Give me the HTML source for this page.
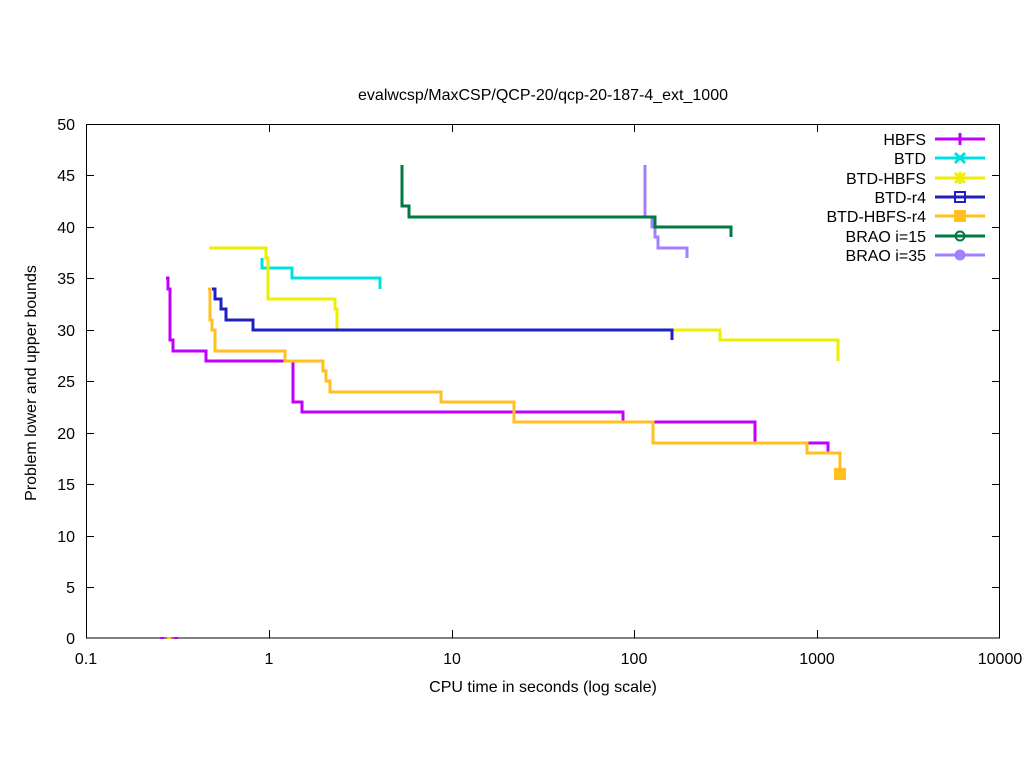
<!DOCTYPE html>
<html><head><style>body{margin:0;background:#fff}svg{display:block}text{font-family:"Liberation Sans",sans-serif;font-size:16px;fill:#000}</style></head><body>
<svg width="1024" height="768" xmlns="http://www.w3.org/2000/svg">
<rect width="1024" height="768" fill="#fff"/>
<text x="543" y="100" text-anchor="middle">evalwcsp/MaxCSP/QCP-20/qcp-20-187-4_ext_1000</text>
<g stroke="#000" stroke-width="1" fill="none">
<rect x="86.5" y="124.5" width="913" height="513.5"/>
<path d="M86 587.5h8M1000 587.5h-8M86 536.5h8M1000 536.5h-8M86 484.5h8M1000 484.5h-8M86 433.5h8M1000 433.5h-8M86 381.5h8M1000 381.5h-8M86 330.5h8M1000 330.5h-8M86 278.5h8M1000 278.5h-8M86 227.5h8M1000 227.5h-8M86 175.5h8M1000 175.5h-8"/>
<path d="M269.5 638v-8M269.5 124v8M452.5 638v-8M452.5 124v8M634.5 638v-8M634.5 124v8M817.5 638v-8M817.5 124v8"/>
</g>
<g text-anchor="end">
<text x="75" y="644">0</text><text x="75" y="593">5</text><text x="75" y="542">10</text><text x="75" y="490">15</text><text x="75" y="439">20</text><text x="75" y="387">25</text><text x="75" y="336">30</text><text x="75" y="284">35</text><text x="75" y="233">40</text><text x="75" y="181">45</text><text x="75" y="130">50</text>
</g>
<g text-anchor="middle">
<text x="86" y="664">0.1</text><text x="269" y="664">1</text><text x="452" y="664">10</text><text x="634" y="664">100</text><text x="817" y="664">1000</text><text x="1000" y="664">10000</text>
<text x="543" y="692">CPU time in seconds (log scale)</text>
<text transform="translate(36,383) rotate(-90)">Problem lower and upper bounds</text>
</g>
<g fill="none" stroke-width="3">
<path stroke="#a080ff" d="M645 165V217H652V227H655V237H658V248H687V258"/>
<path stroke="#007a40" d="M402 165V206H409V217H655V227H731V237"/>
<path stroke="#00e0e0" d="M262 258V268H292V278H380V289"/>
<path stroke="#eeee00" d="M209 248H266V258H268V299H335V309H337V330H720V340H838V361"/>
<path stroke="#2020c0" d="M212 289H215V299H221V309H226V320H253V330H672V340"/>
<path stroke="#c000ff" d="M166 278H168V289H170V340H173V351H206V361H293V402H302V412H623V422H755V443H828V453"/>
<path stroke="#ffc020" d="M208 289H210V320H212V330H215V351H285V361H323V371H326V381H330V392H441V402H514V422H653V443H807V453H840V474"/>
</g>
<rect x="834" y="468" width="12" height="12" fill="#ffc020"/>
<g text-anchor="end">
<text x="926" y="145">HBFS</text><text x="926" y="164">BTD</text><text x="926" y="184">BTD-HBFS</text><text x="926" y="203">BTD-r4</text><text x="926" y="222">BTD-HBFS-r4</text><text x="926" y="242">BRAO i=15</text><text x="926" y="261">BRAO i=35</text>
</g>
<g stroke-width="3" fill="none">
<path stroke="#c000ff" d="M935 139H985M960 133v12"/>
<path stroke="#00e0e0" d="M935 158H985M955 153l10 10M965 153l-10 10"/>
<path stroke="#eeee00" d="M935 178H985M955 173l10 10M965 173l-10 10M960 172v12M954 178h12"/>
<path stroke="#2020c0" d="M935 197H985"/><rect x="955" y="192" width="10" height="10" stroke="#2020c0" stroke-width="2"/>
<path stroke="#ffc020" d="M935 216H985"/>
<path stroke="#007a40" d="M935 236H985"/><circle cx="960" cy="236" r="4.5" stroke="#007a40" stroke-width="2" fill="none"/>
<path stroke="#a080ff" d="M935 255H985"/>
</g>
<rect x="954" y="210" width="12" height="12" fill="#ffc020"/>
<circle cx="960" cy="255" r="5.5" fill="#a080ff"/>
<g stroke-width="2">
<path stroke="#c000ff" d="M160 638h4M174 638h4"/><path stroke="#ffc020" d="M167 638h4"/>
</g>
</svg>
</body></html>
